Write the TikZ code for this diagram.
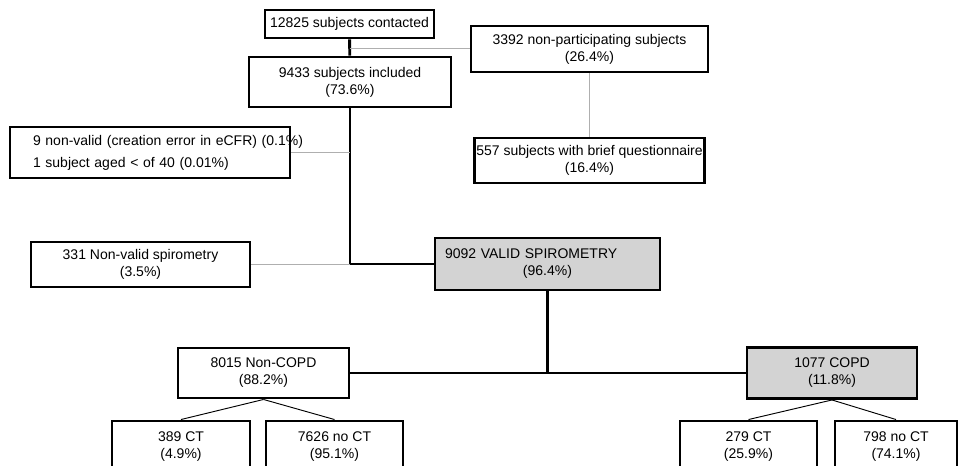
\documentclass[tikz,border=0pt]{standalone}
\usepackage{fontspec}
\setmainfont{Liberation Sans}

\definecolor{boxgray}{RGB}{211,211,211}
\definecolor{linegray}{RGB}{175,175,175}

\tikzset{
  BoxStyle/.style = {draw, line width=2.2pt, fill=white, inner sep=0pt, align=center,
                     font=\fontsize{10.5}{12.75}\selectfont},
  GrayBox/.style = {BoxStyle, fill=boxgray},
  BoxSize/.style 2 args = {minimum width=#1*0.75pt, minimum height=#2*0.75pt},
  MainEdge/.style = {line width=2.2pt},
  SideEdge/.style = {line width=0.75pt, color=linegray},
  SplitEdge/.style = {line width=0.7pt}
}

\begin{document}
\begin{tikzpicture}[x=0.75pt, y=-0.75pt]
    \useasboundingbox (0,0) rectangle (960,466);

    \node[BoxStyle, BoxSize={169}{28}] (Contacted) at (349.5,24) {12825 subjects contacted};
    \node[BoxStyle, BoxSize={202}{50}] (Included) at (350,82) {9433 subjects included\\(73.6\%)};
    \node[BoxStyle, BoxSize={237}{46}] (NonPart) at (589.5,49) {3392 non-participating subjects\\(26.4\%)};
    \node[BoxStyle, BoxSize={230}{45}] (Brief) at (589.5,160.5) {557 subjects with brief questionnaire\\(16.4\%)};

    \node[BoxStyle, BoxSize={280}{51}, text width=175.5pt, align=left] (Excluded) at (150,152.5)
        {\mbox{9 non-valid (creation error in eCFR) (0.1\%)}\\[3.75pt]\mbox{1 subject aged < of 40 (0.01\%)}};
    \node[BoxStyle, BoxSize={219}{45}] (NonValid) at (140.5,264.5) {331 Non-valid spirometry\\(3.5\%)};

    \node[GrayBox, BoxSize={225}{52}, text width=153.75pt] (Valid) at (547.5,264)
        {\makebox[153.75pt][l]{9092 VALID SPIROMETRY}\\(96.4\%)};

    \node[BoxStyle, BoxSize={171}{50}] (NonCopd) at (263.5,373) {8015 Non-COPD\\(88.2\%)};
    \node[GrayBox, BoxSize={170}{51}] (Copd) at (832,373) {1077 COPD\\(11.8\%)};

    \node[BoxStyle, BoxSize={138}{52}] (CtA) at (181,447) {389 CT\\(4.9\%)};
    \node[BoxStyle, BoxSize={137}{52}] (NoCtA) at (334.5,447) {7626 no CT\\(95.1\%)};
    \node[BoxStyle, BoxSize={137}{52}] (CtB) at (748.5,447) {279 CT\\(25.9\%)};
    \node[BoxStyle, BoxSize={122}{52}] (NoCtB) at (896,447) {798 no CT\\(74.1\%)};

    \coordinate (JoinA) at (Contacted.south |- NonPart.west);
    \coordinate (JoinB) at (Included.south |- Excluded.east);
    \coordinate (JoinC) at (Included.south |- NonValid.east);
    \coordinate (Split) at (Valid.south |- NonCopd.east);

    \draw[MainEdge] (Contacted) -- (Included);
    \draw[MainEdge] (Included) |- (Valid);
    \draw[MainEdge] (Valid) -- (Split);
    \draw[MainEdge] (NonCopd.east) -- (Copd.west);

    \draw[SideEdge] (JoinA) -- (NonPart);
    \draw[SideEdge] (NonPart) -- (Brief);
    \draw[SideEdge] (Excluded) -- (JoinB);
    \draw[SideEdge] (NonValid) -- (JoinC);

    \draw[SplitEdge] (NonCopd.south) -- (CtA.north);
    \draw[SplitEdge] (NonCopd.south) -- (NoCtA.north);
    \draw[SplitEdge] (Copd.south) -- (CtB.north);
    \draw[SplitEdge] (Copd.south) -- (NoCtB.north);

\end{tikzpicture}
\end{document}
